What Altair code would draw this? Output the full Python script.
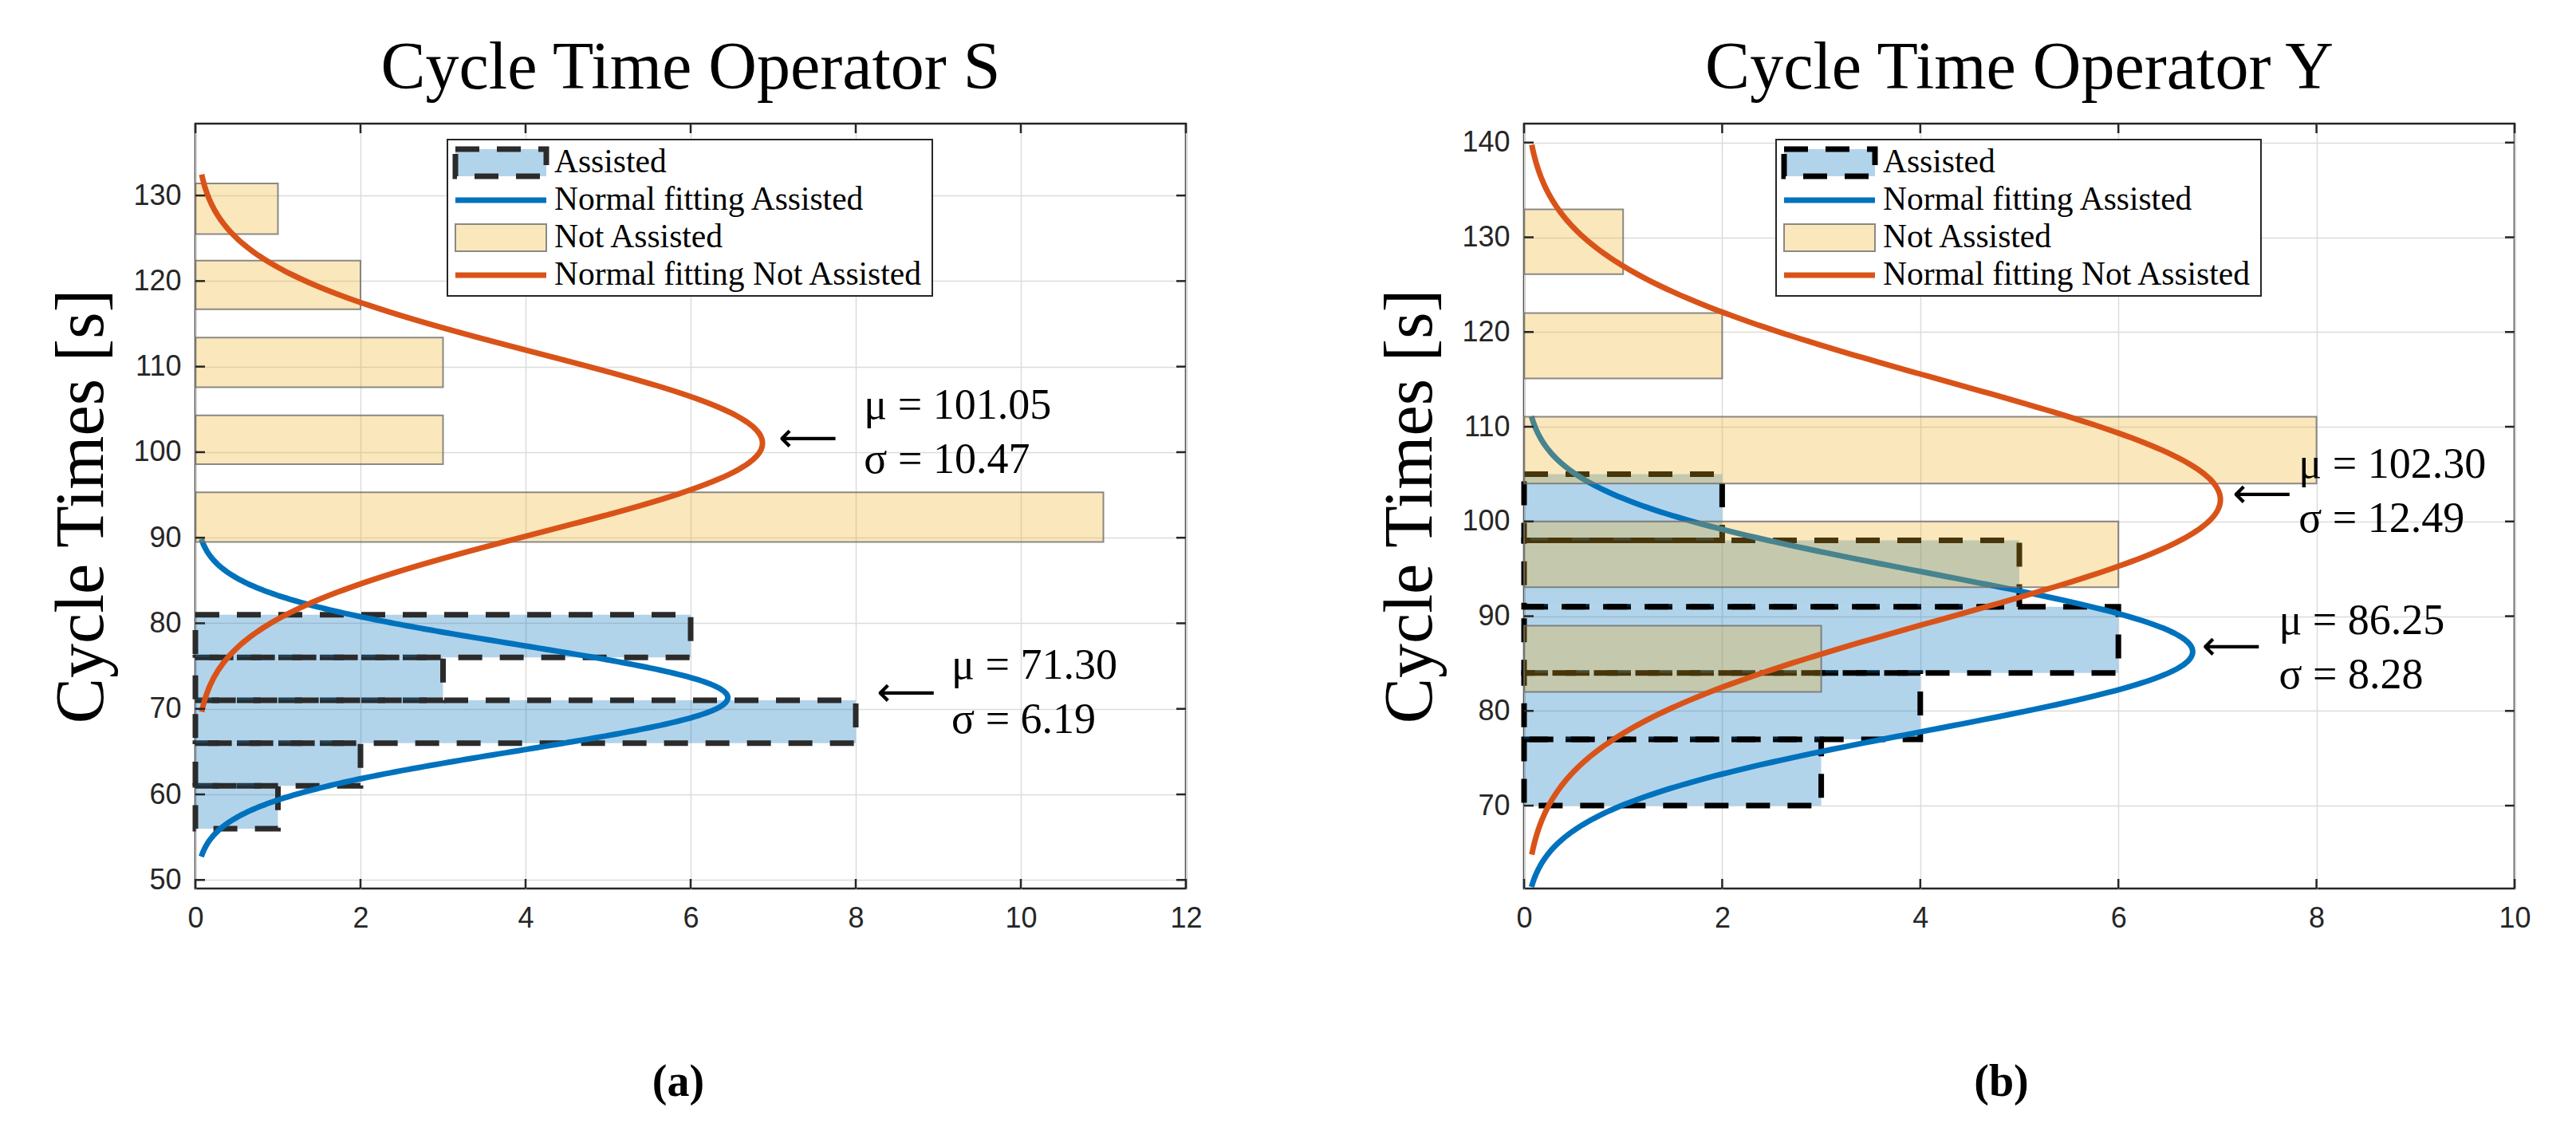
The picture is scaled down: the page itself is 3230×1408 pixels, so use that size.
import altair as alt
import numpy as np
import pandas as pd

# ---------------- values ----------------
# (a) Operator S
s_assisted_lo = [56, 61, 66, 71, 76]
s_assisted_hi = [61, 66, 71, 76, 81]
s_assisted_count = [1, 2, 8, 3, 6]
s_not_lo = [89.5, 98.6, 107.6, 116.7, 125.5]
s_not_hi = [95.3, 104.3, 113.4, 122.4, 131.4]
s_not_count = [11, 3, 3, 2, 1]
s_mu = [71.30, 101.05]        # assisted, not assisted
s_sigma = [6.19, 10.47]
s_peak = [6.45, 6.87]
s_arrow_x = [8.25, 7.06]
s_text_x = [9.16, 8.10]
s_text_y = [71.8, 102.2]
s_xticks = [0, 2, 4, 6, 8, 10, 12]
s_yticks = [50, 60, 70, 80, 90, 100, 110, 120, 130]
s_xdomain = [0, 12]
s_ydomain = [49.0, 138.4]

# (b) Operator Y
y_assisted_lo = [70, 77, 84, 91, 98]
y_assisted_hi = [77, 84, 91, 98, 105]
y_assisted_count = [3, 4, 6, 5, 2]
y_not_lo = [82.0, 93.05, 104.0, 115.1, 126.1]
y_not_hi = [89.0, 100.0, 111.05, 122.0, 132.95]
y_not_count = [3, 6, 8, 2, 1]
y_mu = [86.25, 102.30]
y_sigma = [8.28, 12.49]
y_peak = [6.75, 7.03]
y_arrow_x = [6.84, 7.15]
y_text_x = [7.62, 7.82]
y_text_y = [86.6, 103.1]
y_xticks = [0, 2, 4, 6, 8, 10]
y_yticks = [70, 80, 90, 100, 110, 120, 130, 140]
y_xdomain = [0, 10]
y_ydomain = [61.25, 142.0]

legend_labels = ["Assisted", "Normal fitting Assisted", "Not Assisted",
                 "Normal fitting Not Assisted"]

BLUE = "#0072BD"
ORANGE = "#D95319"
YELLOW = "#EDB120"
AXC = "#262626"
SERIF = "Liberation Serif"
SANS = "Liberation Sans"

W, H = 1242, 959


def fit_curve(mu, sigma, peak):
    t = np.linspace(mu - 3 * sigma, mu + 3 * sigma, 301)
    return pd.DataFrame({"t": t, "d": peak * np.exp(-0.5 * ((t - mu) / sigma) ** 2)})


def panel(title, caption, caption_x, alo, ahi, an, nlo, nhi, nn, mu, sigma, peak,
          arrow_x, text_x, text_y, xdom, ydom, xticks, yticks, dash_color):
    xaxis = alt.Axis(values=xticks, format="d", title=caption,
                     titleFont=SERIF, titleFontSize=56, titleFontWeight="bold",
                     titleColor="black", titleX=caption_x, titleY=242,
                     titleAlign="center", titleBaseline="middle",
                     labelFont=SANS, labelFontSize=36, labelColor=AXC,
                     labelPadding=20, labelFlush=False, ticks=False,
                     domain=False, grid=True, gridColor="#dcdcdc", gridWidth=1.5)
    yaxis = alt.Axis(values=yticks, format="d", title="Cycle Times [s]",
                     titleFont=SERIF, titleFontSize=86, titleFontWeight="normal",
                     titleColor="black", titlePadding=20,
                     labelFont=SANS, labelFontSize=36, labelColor=AXC,
                     labelPadding=18, ticks=False, domain=False, grid=True,
                     gridColor="#dcdcdc", gridWidth=1.5)
    xs = alt.Scale(domain=xdom, nice=False, zero=False)
    ys = alt.Scale(domain=ydom, nice=False, zero=False)

    def X(f):
        return alt.X(f, type="quantitative", scale=xs, axis=xaxis)

    def Y(f):
        return alt.Y(f, type="quantitative", scale=ys, axis=yaxis)

    assist_df = pd.DataFrame({"lo": alo, "hi": ahi, "n": an})
    not_df = pd.DataFrame({"lo": nlo, "hi": nhi, "n": nn})

    assist_bars = alt.Chart(assist_df).transform_calculate(zero="0").mark_rect(
        fill=BLUE, fillOpacity=0.3, stroke=dash_color, strokeWidth=7,
        strokeDash=[30, 22]
    ).encode(x=X("zero"), x2="n:Q", y=Y("lo"), y2="hi:Q")

    blue_curve = alt.Chart(fit_curve(mu[0], sigma[0], peak[0])).mark_line(
        color=BLUE, strokeWidth=7
    ).encode(x=X("d"), y=Y("t"), order="t:Q")

    not_bars = alt.Chart(not_df).transform_calculate(zero="0").mark_rect(
        fill=YELLOW, fillOpacity=0.3, stroke="#6e6e6e", strokeWidth=2,
        strokeOpacity=0.8
    ).encode(x=X("zero"), x2="n:Q", y=Y("lo"), y2="hi:Q")

    orange_curve = alt.Chart(fit_curve(mu[1], sigma[1], peak[1])).mark_line(
        color=ORANGE, strokeWidth=7
    ).encode(x=X("d"), y=Y("t"), order="t:Q")

    # inward tick marks on all four sides of the box
    ytick_df = pd.DataFrame({"v": yticks})
    xtick_df = pd.DataFrame({"v": xticks})
    tick_left = alt.Chart(ytick_df).mark_rule(color=AXC, strokeWidth=2.5).encode(
        y=Y("v"), x=alt.value(0), x2=alt.value(12))
    tick_right = alt.Chart(ytick_df).mark_rule(color=AXC, strokeWidth=2.5).encode(
        y=Y("v"), x=alt.value(W - 12), x2=alt.value(W))
    tick_bottom = alt.Chart(xtick_df).mark_rule(color=AXC, strokeWidth=2.5).encode(
        x=X("v"), y=alt.value(H - 12), y2=alt.value(H))
    tick_top = alt.Chart(xtick_df).mark_rule(color=AXC, strokeWidth=2.5).encode(
        x=X("v"), y=alt.value(0), y2=alt.value(12))

    ann_df = pd.DataFrame({
        "mu": mu, "ax": arrow_x, "tx": text_x, "ty": text_y,
        "label": [f"μ = {m:.2f}\nσ = {s:.2f}" for m, s in zip(mu, sigma)],
    })
    arrows = alt.Chart(ann_df).mark_text(
        text="⟵", align="left", baseline="middle", font="DejaVu Sans",
        fontSize=52, color="black", dy=-6
    ).encode(x=X("ax"), y=Y("mu"))
    ann_text = alt.Chart(ann_df).mark_text(
        align="left", baseline="middle", font=SERIF, fontSize=54,
        lineBreak="\n", lineHeight=68, dy=-34, color="black"
    ).encode(x=X("tx"), y=Y("ty"), text="label:N")

    one = pd.DataFrame({"k": [0]})
    rows = [49, 96, 143, 190]
    lx0, lx1, tx = 326, 440, 450
    legend_box = alt.Chart(one).mark_rect(
        fill="white", stroke=AXC, strokeWidth=2
    ).encode(x=alt.value(316), x2=alt.value(924), y=alt.value(20), y2=alt.value(216))
    leg_assist = alt.Chart(one).mark_rect(
        fill=BLUE, fillOpacity=0.3, stroke=dash_color, strokeWidth=7,
        strokeDash=[30, 22]
    ).encode(x=alt.value(lx0), x2=alt.value(lx1),
             y=alt.value(rows[0] - 17), y2=alt.value(rows[0] + 17))
    leg_blue = alt.Chart(one).mark_rule(color=BLUE, strokeWidth=7).encode(
        x=alt.value(lx0), x2=alt.value(lx1), y=alt.value(rows[1]))
    leg_not = alt.Chart(one).mark_rect(
        fill=YELLOW, fillOpacity=0.3, stroke="#6e6e6e", strokeWidth=2,
        strokeOpacity=0.8
    ).encode(x=alt.value(lx0), x2=alt.value(lx1),
             y=alt.value(rows[2] - 17), y2=alt.value(rows[2] + 17))
    leg_orange = alt.Chart(one).mark_rule(color=ORANGE, strokeWidth=7).encode(
        x=alt.value(lx0), x2=alt.value(lx1), y=alt.value(rows[3]))
    leg_texts = [
        alt.Chart(one).mark_text(
            text=lab, align="left", baseline="middle", font=SERIF,
            fontSize=41.5, color="black"
        ).encode(x=alt.value(tx), y=alt.value(r))
        for lab, r in zip(legend_labels, rows)
    ]

    return alt.layer(
        assist_bars, blue_curve, not_bars, orange_curve,
        tick_left, tick_right, tick_bottom, tick_top,
        arrows, ann_text,
        legend_box, leg_assist, leg_blue, leg_not, leg_orange, *leg_texts
    ).properties(
        width=W, height=H,
        title=alt.TitleParams(title, font=SERIF, fontSize=84,
                              fontWeight="normal", color="black", offset=25,
                              anchor="middle"),
    )


panel_a = panel("Cycle Time Operator S", "(a)", 605,
                s_assisted_lo, s_assisted_hi, s_assisted_count,
                s_not_lo, s_not_hi, s_not_count,
                s_mu, s_sigma, s_peak, s_arrow_x, s_text_x, s_text_y,
                s_xdomain, s_ydomain, s_xticks, s_yticks, "#2b2b2b")
panel_b = panel("Cycle Time Operator Y", "(b)", 598,
                y_assisted_lo, y_assisted_hi, y_assisted_count,
                y_not_lo, y_not_hi, y_not_count,
                y_mu, y_sigma, y_peak, y_arrow_x, y_text_x, y_text_y,
                y_xdomain, y_ydomain, y_xticks, y_yticks, "#000000")

chart = alt.hconcat(panel_a, panel_b, spacing=215).properties(
    padding={"left": 50, "top": 34, "right": 10, "bottom": 10},
    background="white",
).configure_view(stroke=AXC, strokeWidth=2.5)

chart.save("out.html", embed_options={"renderer": "svg", "actions": False})
